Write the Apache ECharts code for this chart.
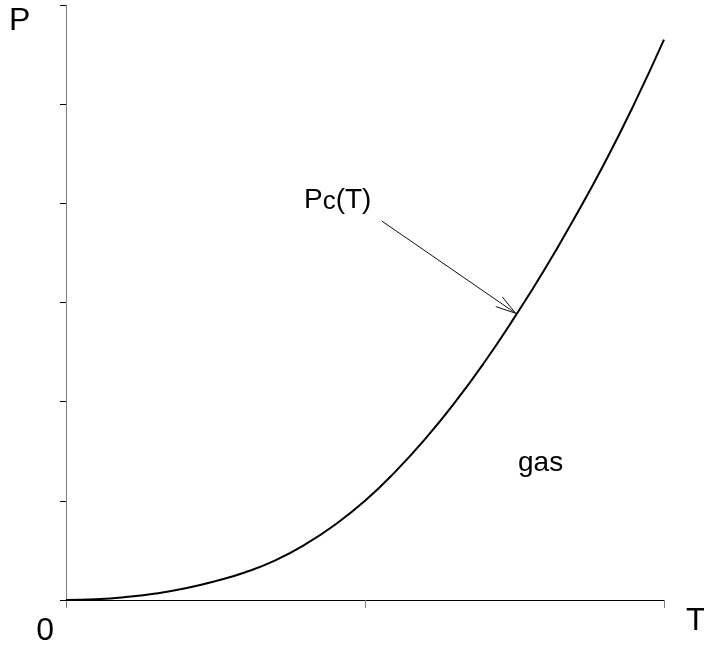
<!DOCTYPE html>
<html>
<head>
<meta charset="utf-8">
<title>Pc(T)</title>
<script src="https://cdn.jsdelivr.net/npm/echarts@6/dist/echarts.min.js"></script>
<style>
  html, body { margin: 0; padding: 0; background: #fff; }
  #chart { width: 704px; height: 649px; }
</style>
</head>
<body>
<div id="chart"></div>
<script>
// Coexistence curve P_c(T)
const temperature = [0, 0.1, 0.2, 0.3, 0.4, 0.5, 0.6, 0.7, 0.8, 0.9, 1.0,
                     1.1, 1.2, 1.3, 1.4, 1.5, 1.6, 1.7, 1.8, 1.9, 2.0];
const pressure    = [0, 0.008, 0.03, 0.065, 0.118, 0.19, 0.28, 0.40, 0.56, 0.76, 1.00,
                     1.29, 1.62, 1.99, 2.40, 2.85, 3.33, 3.85, 4.40, 5.00, 5.65];

// Axis ticks and labels
const tTicks = [0, 1, 2];
const tTickLabels = ['0', '', ''];
const pTicks = [0, 1, 2, 3, 4, 5, 6];

// Annotation arrow: from label towards the curve [T, P]
const arrowFrom = [1.056, 3.822];
const arrowTo   = [1.504, 2.891];

const curveData = temperature.map((t, i) => [t, pressure[i]]);

const chart = echarts.init(document.getElementById('chart'), null, { renderer: 'canvas' });

const FONT = 'Liberation Sans, Arial, sans-serif';

chart.setOption({
  animation: false,
  backgroundColor: '#ffffff',
  grid: { left: 66, right: 40, top: 5, bottom: 49, containLabel: false },
  xAxis: {
    type: 'value',
    min: tTicks[0],
    max: tTicks[tTicks.length - 1],
    interval: 1,
    splitLine: { show: false },
    axisLine: { show: true, onZero: false, lineStyle: { color: '#000', width: 1 } },
    axisTick: { show: true, length: 8, lineStyle: { color: '#808080', width: 1 } },
    axisLabel: {
      show: true,
      margin: 15,
      align: 'right',
      padding: [0, 12, 0, 0],
      fontFamily: FONT,
      fontSize: 32,
      color: '#000',
      formatter: v => tTickLabels[tTicks.indexOf(v)] ?? ''
    }
  },
  yAxis: {
    type: 'value',
    min: pTicks[0],
    max: pTicks[pTicks.length - 1],
    interval: 1,
    splitLine: { show: false },
    axisLine: { show: true, onZero: false, lineStyle: { color: '#808080', width: 1 } },
    axisTick: { show: true, length: 6, lineStyle: { color: '#000', width: 1 } },
    axisLabel: { show: false }
  },
  graphic: [
    { type: 'text', left: 9, top: 5,
      style: { text: 'P', font: '32px ' + FONT, fill: '#000' } },
    { type: 'text', left: 686, top: 605,
      style: { text: 'T', font: '32px ' + FONT, fill: '#000' } },
    { type: 'text', left: 304, top: 186,
      style: {
        text: '{a|P}{b|c}{a|(T)}',
        rich: {
          a: { fontFamily: FONT, fontSize: 28, lineHeight: 30, color: '#000', verticalAlign: 'middle' },
          b: { fontFamily: FONT, fontSize: 26, lineHeight: 22, color: '#000', verticalAlign: 'bottom' }
        }
      } },
    { type: 'text', left: 518, top: 449,
      style: { text: 'gas', font: '28px ' + FONT, fill: '#000' } }
  ],
  series: [
    {
      type: 'line',
      data: curveData,
      smooth: 0.5,
      showSymbol: false,
      clip: false,
      lineStyle: { color: '#000', width: 2 }
    },
    {
      type: 'custom',
      coordinateSystem: 'cartesian2d',
      data: [[arrowFrom[0], arrowFrom[1], arrowTo[0], arrowTo[1]]],
      renderItem: function (params, api) {
        const p0 = api.coord([api.value(0), api.value(1)]);
        const p1 = api.coord([api.value(2), api.value(3)]);
        const back = Math.atan2(p0[1] - p1[1], p0[0] - p1[0]);
        const len = 21, spread = 16 * Math.PI / 180;
        const w1 = [p1[0] + len * Math.cos(back + spread), p1[1] + len * Math.sin(back + spread)];
        const w2 = [p1[0] + len * Math.cos(back - spread), p1[1] + len * Math.sin(back - spread)];
        const style = { stroke: '#111', lineWidth: 1, fill: null };
        return {
          type: 'group',
          children: [
            { type: 'line', shape: { x1: p0[0], y1: p0[1], x2: p1[0], y2: p1[1] }, style: style },
            { type: 'polyline', shape: { points: [w1, p1, w2] }, style: style }
          ]
        };
      }
    }
  ]
});
</script>
</body>
</html>
